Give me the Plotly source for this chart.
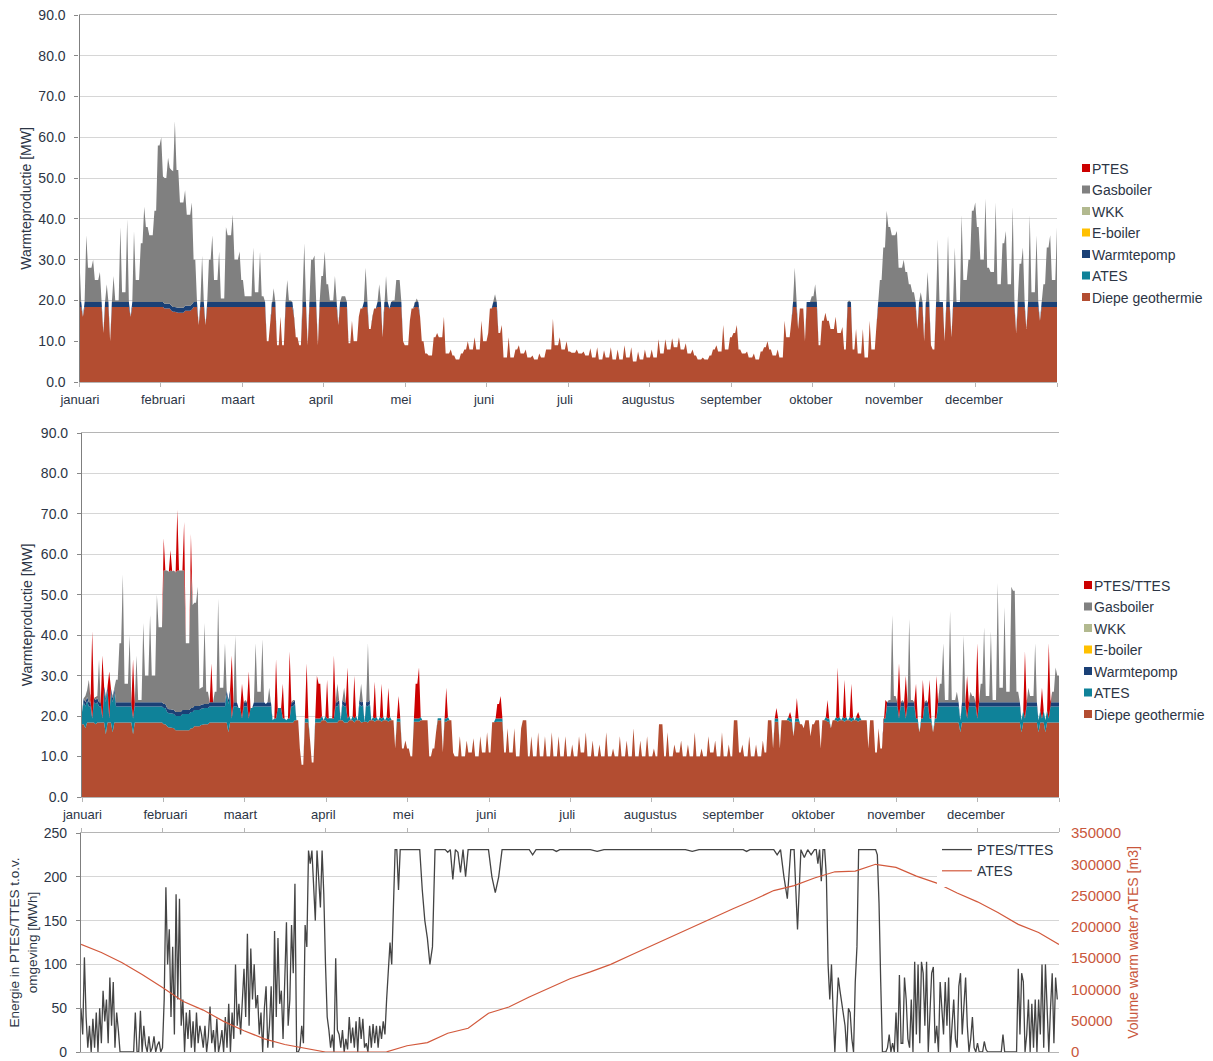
import plotly.graph_objects as go

W, H = 1213, 1061
months = ["januari","februari","maart","april","mei","juni","juli","augustus","september","oktober","november","december"]
# Where the reference centres its month names (hours into the year); they sit slightly off the ticks.
label_hours = [4,748,1420,2164,2881,3625,4351,5095,5838,6555,7299,8016]

geo_1 = [
18.4,16,18.4,18.4,18.4,18.4,18.4,12,18.4,10,18.4,18.4,18.4,18.4,18.4,16,18.4,18.4,18.4,18.4,18.4,18.4,18.4,18.4,
18.4,18,18,17.5,17.2,17,17,17.5,17.5,17.8,18.4,14,18.4,14,18.4,18.4,18.4,18.4,18.4,18.4,18.4,18.4,18.4,18.4,
18.4,18.4,18.4,18.4,18.4,18.4,18.4,10,14.5,18.4,9,16,9,18.4,18.4,16,11,9,18.4,9,18.4,18.4,9,18.4,
18.4,18.4,18.4,18.4,14,18.4,18.4,9.5,15,10,16,18,18.4,13,16,18,18.4,11,18.4,18,18.4,18.4,18.4,10,
9,15,18,18.4,16,10,7,6.5,11,12,11,16,7,8,6.5,5.5,7,8,10,8,11,8,15,10,
12,18,18.4,12,14,6,11,6,8,9,7,8,6,6.5,5.5,7,6,8,8,15.5,9,11,8,10,
7.5,7.2,8,7,7.5,6.5,8.3,6,8.5,5.5,7.8,6,8.5,5.5,8,5.5,9,6,8.5,5,7.5,5.5,8,6,
8,6,10.5,7,10.5,8,10.7,8.5,11,8,9.5,7,8,6.5,5.5,6,5.5,6.5,8,9,7.5,14,8,11,
12,14,8,7,7.5,6,7,5.5,7.5,8.5,10,8,6.5,8,6,15,11,15,18.4,13,18,10,18.4,18.4,
18.4,9,15,17,15,13,16,12,13.5,8,18.4,8,13,7,13,6,15,8,14,18.4,18.4,18.4,18.4,18.4,
18.4,18.4,18.4,18.4,18.4,18.4,13,18.4,10,18.4,9,8,18.4,18.4,10,18.4,11,18.4,18.4,18.4,18.4,18.4,18.4,18.4,
18.4,18.4,18.4,18.4,18.4,18.4,18.4,18.4,18.4,18.4,18.4,12,18.4,18.4,13,18.4,18.4,18.4,15,18.4,18.4,18.4,18.4,18.4]
wp_1 = [
1.2,0,1.2,1.2,1.2,1.2,1.2,0,1.2,0,1.2,1.2,1.2,1.2,1.2,0,1.2,1.2,1.2,1.2,1.2,1.2,1.2,1.2,
1.2,1.2,1.2,1.2,1.2,1.2,1.2,1.2,1.2,1.2,1.2,0,1.2,0,1.2,1.2,1.2,1.2,1.2,1.2,1.2,1.2,1.2,1.2,
1.2,1.2,1.2,1.2,1.2,1.2,1.2,0,0,1.2,0,0,0,1.2,1.2,0,0,0,1.2,0,1.2,1.2,0,1.2,
1.2,1.2,1.2,1.2,0,1.2,1.2,0,0,0,0,0,1.2,0,0,0,1.2,0,1.2,0,1.2,1.2,1.2,0,
0,0,0,1.2,0,0,0,0,0,0,0,0,0,0,0,0,0,0,0,0,0,0,0,0,
0,0,1.2,0,0,0,0,0,0,0,0,0,0,0,0,0,0,0,0,0,0,0,0,0,
0,0,0,0,0,0,0,0,0,0,0,0,0,0,0,0,0,0,0,0,0,0,0,0,
0,0,0,0,0,0,0,0,0,0,0,0,0,0,0,0,0,0,0,0,0,0,0,0,
0,0,0,0,0,0,0,0,0,0,0,0,0,0,0,0,0,0,1.2,0,0,0,1.2,1.2,
1.2,0,0,0,0,0,0,0,0,0,1.2,0,0,0,0,0,0,0,0,1.2,1.2,1.2,1.2,1.2,
1.2,1.2,1.2,1.2,1.2,1.2,0,1.2,0,1.2,0,0,1.2,1.2,0,1.2,0,1.2,1.2,1.2,1.2,1.2,1.2,1.2,
1.2,1.2,1.2,1.2,1.2,1.2,1.2,1.2,1.2,1.2,1.2,0,1.2,1.2,0,1.2,1.2,1.2,0,1.2,1.2,1.2,1.2,1.2]
gas_1 = [
10.4,0,16.4,8.4,10.4,5.4,7.4,0,4.4,0,6.4,.4,18.4,2.4,20.4,0,17.4,5.4,14.4,23.4,18.4,16.4,22.4,38.4,
40.4,30.8,35.8,33.3,45.6,33.8,25.8,28.3,22.3,25,10.4,0,11.4,0,10.4,16.4,5.4,12.4,.9,18.4,16.4,21.4,10.4,12.4,
5.4,1.4,1.4,13.4,2.4,12.4,1.4,0,0,3.4,0,0,0,5.4,.4,0,0,0,14.4,0,10.4,11.4,0,6.4,
12.4,4.4,.4,6.4,0,1.4,1.4,0,0,0,0,0,8.4,0,0,0,4.4,0,6.4,0,.4,5.4,5.4,0,
0,0,0,.9,0,0,0,0,0,0,0,0,0,0,0,0,0,0,0,0,0,0,0,0,
0,0,1.9,0,0,0,0,0,0,0,0,0,0,0,0,0,0,0,0,0,0,0,0,0,
0,0,0,0,0,0,0,0,0,0,0,0,0,0,0,0,0,0,0,0,0,0,0,0,
0,0,0,0,0,0,0,0,0,0,0,0,0,0,0,0,0,0,0,0,0,0,0,0,
0,0,0,0,0,0,0,0,0,0,0,0,0,0,0,0,0,0,8.4,0,0,0,0,1.4,
4.4,0,0,0,0,0,0,0,0,0,.4,0,0,0,0,0,0,0,0,5.4,13.4,22.4,18.4,16.4,
17.4,8.4,10.4,7.4,4.4,2.4,0,2.4,0,7.4,0,0,15.4,0,0,16.4,0,13.4,0,21.4,5.4,10.4,22.4,24.4,
18.4,10.4,25.4,8.4,7.4,24.4,4.4,14.4,17.4,4.4,23.4,0,9.4,13.4,0,21.4,2.4,16.4,0,4.4,13.4,16.4,5.4,18.4]

geo_2 = [
18,17,18.4,18.4,18,18.4,18.4,15.5,18.4,16,18.4,18.4,18.4,18.4,18.4,15.5,18.4,18.4,18.4,18.4,18.4,18.4,18.4,18.4,
18,17.5,17.2,17,16.5,16.5,16.5,16.5,17,17.5,17.5,17.8,18,18,18.4,18.4,18.4,18.4,18.4,16,18.4,18.4,18.4,18.4,
18.4,18.4,18.4,18.4,18.4,18.4,18.4,18.4,18.4,18.4,18.4,18.4,18.4,18.4,18.4,19,12,8,18.4,14,8.5,18.4,18.4,19,
18.4,18.4,18.4,18.4,19,18.4,18.4,19,18.4,19,18.4,18.6,18.4,19,18.6,19,18.6,19,18.6,19,12,18.6,12,14,
12,10,18.6,18.6,19,19,10,12,16,19,11,18.6,19,11,10,15,10,14,11,14.5,10,15,11,16,
11,18.5,18.6,18.6,11,17,11,17,10,17,19,10,15,10,16,10,15,10,16,10,15,10,15,10,
13,10,15,11,16,10,14,10,13,10,16,10,12,10,15,10,14,10,17,10,14,10,15,10,
12,10,18,10,16,10,13,11,14,10,13,10,16,10,12,10,15,11,14,10,16,10,13,10,
19,11,13,10,15,10,13,10,14,11,19,12,18.6,12,19,19,18.6,15,18.6,18,17,19,15,18,
19,12,19,18.6,17,19,18.6,19,18.6,19,18.6,19,18.6,19,19,12,19,11,17,12,18.4,18.4,18.4,18.4,
18.4,18.4,18.4,18.4,18.4,18.4,16,18.4,18.4,18.4,16,18.4,18.4,18.4,18.4,18.4,18.4,18.4,16,18.4,18.4,18.4,18.4,18.4,
18.4,18.4,18.4,18.4,18.4,18.4,18.4,18.4,18.4,18.4,18.4,18.4,16,18.4,18.4,18.4,18.4,16,18.4,16,18.4,18.4,18.4,18.4]
ates_2 = [
3,5.4,4,1,5,4,1,7.9,1,7.4,4,4,4,4,4,3.9,4,4,4,4,4,4,4,4,
4,3.5,3.5,3.5,3.5,3.5,4,4,4,4,4,4,4,4,4,4,4,4,4,7,1,4,3.6,1,
4,1,3.6,4,4,4,4,4,.6,1,3.6,1,.6,1,4,0,0,0,1,0,0,1,1,0,
1,1.1,1,4,0,4,1,0,1,0,4,0,4,0,.8,0,.8,0,.8,0,0,.8,0,0,
0,0,.8,.8,0,0,0,0,0,.5,0,.8,0,0,0,0,0,0,0,0,0,0,0,0,
0,0,.8,.8,0,0,0,0,0,0,0,0,0,0,0,0,0,0,0,0,0,0,0,0,
0,0,0,0,0,0,0,0,0,0,0,0,0,0,0,0,0,0,0,0,0,0,0,0,
0,0,0,0,0,0,0,0,0,0,0,0,0,0,0,0,0,0,0,0,0,0,0,0,
0,0,0,0,0,0,0,0,0,0,0,0,.8,0,0,0,.8,0,.8,0,0,0,0,0,
0,0,0,.8,0,0,.8,0,.8,0,.8,0,.8,0,0,0,0,0,0,0,1,4,4,4,
1,4,1,4,4,1,0,1,4,1,0,1,4,4,4,4,4,4,3,4,1,4,4,1,
4,4,4,4,4,4,4,4,4,4,4,4,3,1,4,4,4,3,1,3,1,4,4,4]
wp_2 = [
0,1,1,0,1,1,0,1,0,1,1,1,1,1,1,0,1,1,1,1,1,1,1,1,
1,1,1,1,1,1,1,1,1,1,1,1,1,1,1,1,1,1,1,1,0,1,0,0,
1,0,0,1,1,1,.6,1,0,0,0,0,0,0,1,0,0,0,0,0,0,0,0,0,
0,0,0,1,0,1,0,0,0,0,1,0,1,0,0,0,0,0,0,0,0,0,0,0,
0,0,0,0,0,0,0,0,0,0,0,0,0,0,0,0,0,0,0,0,0,0,0,0,
0,0,0,0,0,0,0,0,0,0,0,0,0,0,0,0,0,0,0,0,0,0,0,0,
0,0,0,0,0,0,0,0,0,0,0,0,0,0,0,0,0,0,0,0,0,0,0,0,
0,0,0,0,0,0,0,0,0,0,0,0,0,0,0,0,0,0,0,0,0,0,0,0,
0,0,0,0,0,0,0,0,0,0,0,0,0,0,0,0,0,0,0,0,0,0,0,0,
0,0,0,0,0,0,0,0,0,0,0,0,0,0,0,0,0,0,0,0,0,1,1,1,
0,1,0,1,1,0,0,0,1,0,0,0,1,1,1,1,1,1,0,1,0,1,1,0,
1,1,1,1,1,1,1,1,1,1,1,1,0,0,1,1,1,0,0,0,0,1,1,1]
gas_2 = [
0,1.6,5.6,0,.6,10.6,0,.6,0,.6,5.6,14.6,31.6,4.6,16.6,0,11.6,.6,19.6,6.6,21.6,6.6,26.6,18.6,
33,34,34.3,34.5,35,35,34.5,16.5,34,25.5,29.5,4.2,20,3,0,2.6,25.6,3.6,14.6,0,0,16.6,0,0,
.6,0,0,14.6,2.6,15.6,0,3.6,0,0,0,0,0,0,.6,0,0,0,0,0,0,0,0,0,
0,0,0,4.6,0,3.6,0,0,0,0,4.6,0,14.6,0,0,0,0,0,0,0,0,0,0,0,
0,0,0,0,0,0,0,0,0,0,0,0,0,0,0,0,0,0,0,0,0,0,0,0,
0,0,0,0,0,0,0,0,0,0,0,0,0,0,0,0,0,0,0,0,0,0,0,0,
0,0,0,0,0,0,0,0,0,0,0,0,0,0,0,0,0,0,0,0,0,0,0,0,
0,0,0,0,0,0,0,0,0,0,0,0,0,0,0,0,0,0,0,0,0,0,0,0,
0,0,0,0,0,0,0,0,0,0,0,0,0,0,0,0,0,0,0,0,0,0,0,0,
0,0,0,0,0,0,0,0,0,0,0,0,0,0,0,0,0,0,0,0,0,.6,21.6,1.6,
0,.6,0,20.6,.6,0,0,0,.6,0,0,0,4.6,14.6,.6,22.6,.6,2.6,0,16.6,0,2.6,1.6,0,
4.6,18.6,1.6,17.6,.6,29.6,3.6,23.6,2.6,28.6,27.6,2.6,0,0,3.6,1.6,14.6,0,0,0,0,2.6,8.6,6.6]
ptes_2 = [
0,0,0,21.6,0,0,15.6,0,11.6,0,0,0,0,0,0,14.6,0,0,0,0,0,0,0,0,
8,0,5,0,15,0,12,0,9,0,0,0,0,0,9.6,0,0,0,0,0,15.6,0,0,8.6,
0,11.6,0,0,0,0,0,0,0,14.6,0,8.6,0,16.6,0,0,0,0,13.6,0,0,10.6,8.6,0,
9.6,0,15.6,0,0,0,12.6,0,10.6,0,0,0,0,0,9.1,0,8.6,0,7.6,0,0,5.6,0,0,
0,0,8.6,12.6,0,0,0,0,0,0,0,7.6,0,0,0,0,0,0,0,0,0,0,0,0,
0,0,3.6,5.6,0,0,0,0,0,0,0,0,0,0,0,0,0,0,0,0,0,0,0,0,
0,0,0,0,0,0,0,0,0,0,0,0,0,0,0,0,0,0,0,0,0,0,0,0,
0,0,0,0,0,0,0,0,0,0,0,0,0,0,0,0,0,0,0,0,0,0,0,0,
0,0,0,0,0,0,0,0,0,0,0,0,2.6,0,0,0,1.6,0,5.1,0,0,0,0,0,
0,0,0,4.6,0,0,12.6,0,9.6,0,8.6,0,1.6,0,0,0,0,0,0,0,4.6,0,0,0,
13.6,0,10.6,0,0,8.6,0,9.6,0,9.6,0,10.6,0,0,0,0,0,0,0,0,10.6,0,0,18.6,
0,0,0,0,0,0,0,0,0,0,0,0,0,16.6,0,0,0,0,7.6,0,18.6,0,0,0]

energy_jan = [50,20,108,40,5,30,0,38,5,45,0,50,10,70,35,60,10,85,30,80,5,45,25,0,0,0,0,0,0,0,0,0,45,0,0,47,0,30,8,0,18,0,5,18,0,8,12,0]
energy_feb = [5,60,188,100,140,40,120,20,180,60,175,30,60,0,45,15,48,5,35,0,45,10,30,20,5,30,0,18,52,10,25,0,38,0,10,25,0,40,5,55,0,45,15,100,30,55,20,65]
energy_mar = [95,40,135,30,118,60,100,50,65,20,45,0,50,75,5,30,75,5,138,40,130,55,70,15,75,148,30,60,145,90,192,0,0,5,30,10,145,120,230,215,230,190,150,230,200,165,230,180]
energy_apr = [100,40,25,5,20,0,107,25,20,5,25,0,15,3,40,10,28,5,35,0,40,15,38,5,10,0,30,5,32,10,30,5,30,15,35,20,60,100,125,100,170,231,231,185,231,231,231,231]
energy_may = [231,231,231,231,231,231,185,150,130,100,120,231,231,231,231,231,228,231,197,231,228,205,231,200,231,231,231,231,231,231,231,231]
energy_jun = [231,200,182,200,231,231,231,231,231,231,231,231,231,225,231,231,231,231,231,231,229,231,231,231]
energy_jul = [231,231,231,231,229,231,231,231,231,231,231,231]
energy_aug = [231,231,231,231,231,231,229,231,231,231,231,231]
energy_sep = [231,231,231,231,229,231,231,231,231,231,231,231,231,225,231,200,175,231,231,140,231,222,231,225]
energy_okt = [231,231,215,231,195,231,231,200,100,60,100,45,0,45,85,70,55,40,30,0,50,45,15,0,80,120,231,231,231,231,231,231,231,231,231,231,231,225,170,80,0,0,0,5,20,0,10,0]
energy_nov = [45,0,88,10,10,85,60,15,5,60,0,103,20,100,10,103,90,30,103,0,40,90,97,10,30,0,80,55,20,80,30,85,0,30,60,15,5,75,90,20,60,85,30,0,15,40,5,0]
energy_dec = [10,0,0,0,12,3,0,0,0,0,0,0,0,0,0,20,0,0,0,0,0,0,0,0,95,20,90,80,0,20,60,0,55,5,60,0,60,20,100,5,100,45,0,50,90,10,85,60]
volume_3 = [
172000,159000,143000,124000,
103000,81000,67000,49000,
34000,21000,12000,6000,
0,0,0,200,
10000,15000,30000,38000,
62000,72000,88000,102000,
117000,128000,140000,155000,
170000,184000,199500,214000,
229000,243000,258000,266000,
278000,288000,289000,300000,
295000,281000,270000,254000,
240000,223000,204000,191000,
172000]

C_GEO, C_ATES, C_WP, C_EB, C_WKK, C_GAS, C_PTES = "#b34d31", "#0f8299", "#1a4076", "#ffc000", "#b2b98f", "#808080", "#cc0000"
INK = "#2c3545"
FONT = "Liberation Sans"
HOURS = 8760
month_pos = [i * HOURS / 12 for i in range(13)]

def xs(n):
    return [i * HOURS / (n - 1) for i in range(n)]

def dom_x(a, b):
    return [a / W, b / W]

def dom_y(top, bot):
    return [1 - bot / H, 1 - top / H]

energy_months = [energy_jan, energy_feb, energy_mar, energy_apr, energy_may, energy_jun,
                 energy_jul, energy_aug, energy_sep, energy_okt, energy_nov, energy_dec]
energy_x, energy_y = [], []
for m, vals in enumerate(energy_months):
    for j, v in enumerate(vals):
        energy_x.append(month_pos[m] + j * (HOURS / 12) / len(vals))
        energy_y.append(v)

# The source is hourly: spikes are far narrower than one of the samples read here. Between two samples a
# vertex repeats one of the two values, so a peak tapers to a tip and a gap in a saturated band stays a slit.
def saturated_slit(a, b):
    return max(a, b) if max(a, b) >= 18 else min(a, b)

def narrowed(vals, between):
    step = HOURS / (len(vals) - 1)
    x, y = [], []
    for i, v in enumerate(vals):
        x.append(i * step)
        y.append(v)
        if i + 1 < len(vals):
            x.append((i + 0.5) * step)
            y.append(between(v, vals[i + 1]))
    return x, y

fig = go.Figure()

def area(name, vals, between, ax, ay, group, color):
    x, y = narrowed(vals, between)
    fig.add_trace(go.Scatter(x=x, y=y, name=name, xaxis=ax, yaxis=ay, stackgroup=group,
                             mode="lines", line=dict(width=0, color=color), fillcolor=color, showlegend=False))

for name, v, f, c in [("Diepe geothermie", geo_1, saturated_slit, C_GEO), ("Warmtepomp", wp_1, max, C_WP),
                      ("Gasboiler", gas_1, min, C_GAS)]:
    area(name, v, f, "x", "y", "one", c)
for name, v, f, c in [("Diepe geothermie", geo_2, saturated_slit, C_GEO), ("ATES", ates_2, max, C_ATES),
                      ("Warmtepomp", wp_2, max, C_WP), ("Gasboiler", gas_2, min, C_GAS),
                      ("PTES/TTES", ptes_2, min, C_PTES)]:
    area(name, v, f, "x2", "y2", "two", c)

def legend_items(first, leg, ax, ay, tag):
    items = [(first, C_PTES), ("Gasboiler", C_GAS), ("WKK", C_WKK), ("E-boiler", C_EB),
             ("Warmtepomp", C_WP), ("ATES", C_ATES), ("Diepe geothermie", C_GEO)]
    for name, c in items:
        fig.add_trace(go.Scatter(x=[None], y=[None], name=name, mode="markers", xaxis=ax, yaxis=ay,
                                 legend=leg, legendgroup=tag + name,
                                 marker=dict(symbol="square", size=8, color=c)))

legend_items("PTES", "legend", "x", "y", "a")
legend_items("PTES/TTES", "legend2", "x2", "y2", "b")

fig.add_trace(go.Scatter(x=energy_x, y=energy_y, name="PTES/TTES", xaxis="x3", yaxis="y3", mode="lines",
                         line=dict(color="#444444", width=1.3), legend="legend3"))
fig.add_trace(go.Scatter(x=xs(len(volume_3)), y=volume_3, name="ATES", xaxis="x3", yaxis="y4", mode="lines",
                         line=dict(color="#d2593c", width=1.2), legend="legend3"))

def x_axis(dom, anchor, labels=True):
    return dict(domain=dom, anchor=anchor, range=[0, HOURS], showgrid=False, zeroline=False, automargin=False,
                tickvals=label_hours if labels else [], ticktext=months if labels else [],
                ticks="", ticklabelstandoff=5, tickfont=dict(family=FONT, size=13, color=INK), tickangle=0,
                showline=True, linecolor="#b5b5b5", linewidth=1, mirror=True,
                minor=dict(tickvals=month_pos, ticks="outside", ticklen=4, tickcolor="#b5b5b5", showgrid=False))

def y_axis(dom, anchor, rng, dtick, fmt, title, size, standoff):
    return dict(domain=dom, anchor=anchor, range=rng, dtick=dtick, tickformat=fmt, automargin=False,
                showgrid=True, gridcolor="#d6d6d6", gridwidth=1.3, zeroline=False,
                ticks="outside", ticklen=4, tickcolor="#888888", ticklabelstandoff=6,
                tickfont=dict(family=FONT, size=14, color=INK),
                showline=True, linecolor="#7f7f7f", linewidth=1.2,
                title=dict(text=title, font=dict(family=FONT, size=size, color=INK), standoff=standoff))

title_mw = "Warmteproductie [MW]"
legend_font = dict(family=FONT, size=14, color=INK)
fig.update_layout(
    width=W, height=H, margin=dict(l=0, r=0, t=0, b=0, autoexpand=False), paper_bgcolor="white", plot_bgcolor="white",
    xaxis=x_axis(dom_x(79.5, 1057), "y"),
    yaxis=y_axis(dom_y(15, 382), "x", [0, 90], 10, ".1f", title_mw, 14, 3),
    xaxis2=x_axis(dom_x(82, 1059), "y2"),
    yaxis2=y_axis(dom_y(433, 797), "x2", [0, 90], 10, ".1f", title_mw, 14, 4),
    xaxis3=dict(x_axis(dom_x(81, 1059), "y3", labels=False), side="top"),
    yaxis3=y_axis(dom_y(833, 1052), "x3", [0, 250], 50, "d", "Energie in PTES/TTES t.o.v.<br>omgeving [MWh]", 13.5, 3),
    yaxis4=dict(domain=dom_y(833, 1052), anchor="x3", overlaying="y3", side="right", range=[0, 350000], dtick=50000,
                tickformat="d", showgrid=False, zeroline=False, ticks="", ticklabelstandoff=11, automargin=False,
                tickfont=dict(family=FONT, size=15, color="#c9573c"),
                title=dict(text="Volume warm water ATES [m3]", font=dict(family=FONT, size=14, color="#c9573c"), standoff=8)),
    legend=dict(x=1052 / W, y=1 - 152.5 / H, xanchor="left", yanchor="top", font=legend_font,
                tracegroupgap=0.3, bgcolor="rgba(0,0,0,0)"),
    legend2=dict(x=1054 / W, y=1 - 569.5 / H, xanchor="left", yanchor="top", font=legend_font,
                 tracegroupgap=0.3, bgcolor="rgba(0,0,0,0)"),
    legend3=dict(x=937 / W, y=1 - 834 / H, xanchor="left", yanchor="top", font=legend_font, bgcolor="white"),
)

# The reference draws its legend swatches right next to the text.
post = """
document.body.style.margin = '0';
var shift = function () {
  document.querySelectorAll('.legend, .legend2').forEach(function (l) {
    l.querySelectorAll('.legendsymbols').forEach(function (s) { s.setAttribute('transform', 'translate(14,0)'); });
  });
};
shift(); setTimeout(shift, 50); setTimeout(shift, 300);
"""
fig.write_html("out.html", post_script=post, config=dict(displayModeBar=False))
